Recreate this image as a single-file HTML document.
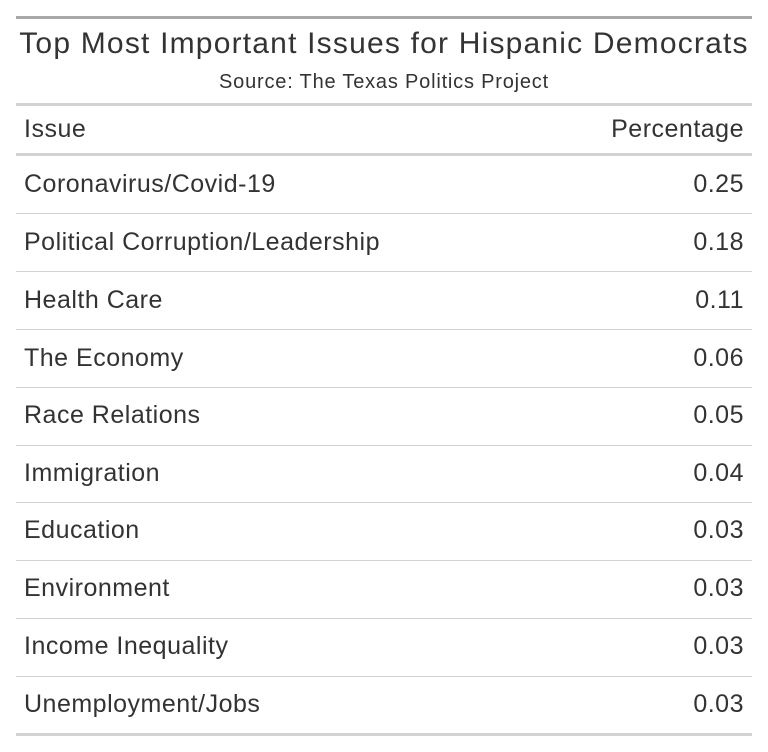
<!DOCTYPE html>
<html><head><style>
body{margin:0;width:768px;height:752px;background:#fff;font-family:"Liberation Sans",Arial,sans-serif;color:#333;position:relative;overflow:hidden}
.h{position:absolute;left:16px;width:736px;background:#d3d3d3}
.t{position:absolute;white-space:nowrap}
.l{left:24px}
.r{right:24px;text-align:right}
.row{font-size:25px;letter-spacing:0.5px}
</style></head><body>
<div class="h" style="top:16px;height:3px;background:#a8a8a8"></div>
<div class="t" style="left:16px;width:736px;text-align:center;top:27px;font-size:30px;letter-spacing:1.2px">Top Most Important Issues for Hispanic Democrats</div>
<div class="t" style="left:16px;width:736px;text-align:center;top:71px;font-size:20px;letter-spacing:0.8px">Source: The Texas Politics Project</div>
<div class="h" style="top:103px;height:3px"></div>
<div class="t l row" style="top:115px">Issue</div>
<div class="t r row" style="top:115px">Percentage</div>
<div class="h" style="top:153px;height:3px"></div>
<div class="t l row" style="top:170px">Coronavirus/Covid-19</div><div class="t r row" style="top:170px">0.25</div>
<div class="h" style="top:213px;height:1px"></div>
<div class="t l row" style="top:228px">Political Corruption/Leadership</div><div class="t r row" style="top:228px">0.18</div>
<div class="h" style="top:271px;height:1px"></div>
<div class="t l row" style="top:286px">Health Care</div><div class="t r row" style="top:286px">0.11</div>
<div class="h" style="top:329px;height:1px"></div>
<div class="t l row" style="top:344px">The Economy</div><div class="t r row" style="top:344px">0.06</div>
<div class="h" style="top:387px;height:1px"></div>
<div class="t l row" style="top:401px">Race Relations</div><div class="t r row" style="top:401px">0.05</div>
<div class="h" style="top:445px;height:1px"></div>
<div class="t l row" style="top:459px">Immigration</div><div class="t r row" style="top:459px">0.04</div>
<div class="h" style="top:502px;height:1px"></div>
<div class="t l row" style="top:516px">Education</div><div class="t r row" style="top:516px">0.03</div>
<div class="h" style="top:560px;height:1px"></div>
<div class="t l row" style="top:574px">Environment</div><div class="t r row" style="top:574px">0.03</div>
<div class="h" style="top:618px;height:1px"></div>
<div class="t l row" style="top:632px">Income Inequality</div><div class="t r row" style="top:632px">0.03</div>
<div class="h" style="top:676px;height:1px"></div>
<div class="t l row" style="top:690px">Unemployment/Jobs</div><div class="t r row" style="top:690px">0.03</div>
<div class="h" style="top:733px;height:3px"></div>
</body></html>
